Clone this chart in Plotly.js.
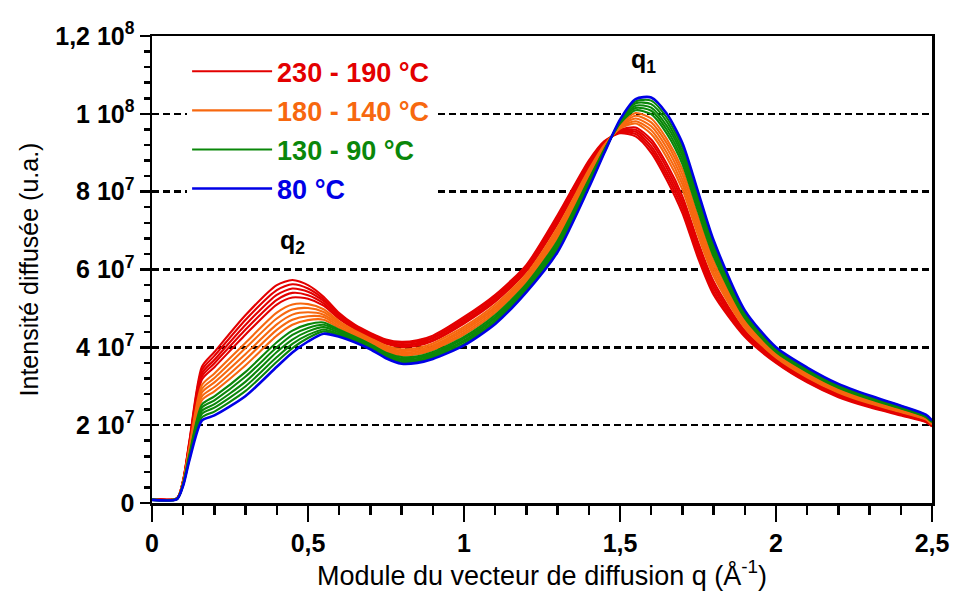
<!DOCTYPE html>
<html>
<head>
<meta charset="utf-8">
<script src="https://cdn.plot.ly/plotly-3.0.1.min.js"></script>
<style>html,body{margin:0;padding:0;background:#fff;}#chart{width:954px;height:596px;}</style>
</head>
<body>
<div id="chart"></div>
<script>
// Scattering vector modulus q (Å^-1)
const q = [0, 0.08, 0.1, 0.12, 0.16, 0.2, 0.3, 0.4, 0.45, 0.5, 0.55, 0.6, 0.65, 0.7, 0.75, 0.8, 0.85, 0.9, 1.0, 1.1, 1.2, 1.3, 1.4, 1.45, 1.5, 1.55, 1.6, 1.65, 1.7, 1.75, 1.8, 1.9, 2.0, 2.1, 2.2, 2.3, 2.4, 2.48, 2.5];

// Scattered intensity, in units of 10^7 (u.a.)
const c230 = [0.10, 0.12, 0.60, 1.60, 3.50, 3.88, 4.83, 5.60, 5.73, 5.60, 5.30, 4.88, 4.58, 4.37, 4.20, 4.14, 4.18, 4.30, 4.78, 5.35, 6.12, 7.40, 8.80, 9.30, 9.50, 9.42, 9.00, 8.30, 7.45, 6.30, 5.35, 4.27, 3.60, 3.10, 2.72, 2.46, 2.25, 2.08, 1.97];
const c220 = [0.10, 0.12, 0.59, 1.57, 3.42, 3.78, 4.71, 5.47, 5.62, 5.51, 5.24, 4.84, 4.55, 4.35, 4.17, 4.11, 4.15, 4.26, 4.74, 5.31, 6.08, 7.34, 8.76, 9.28, 9.52, 9.48, 9.09, 8.40, 7.56, 6.40, 5.43, 4.31, 3.62, 3.12, 2.74, 2.48, 2.27, 2.09, 1.98];
const c210 = [0.10, 0.12, 0.58, 1.54, 3.33, 3.68, 4.58, 5.35, 5.51, 5.43, 5.19, 4.81, 4.53, 4.32, 4.14, 4.07, 4.11, 4.23, 4.69, 5.26, 6.04, 7.29, 8.72, 9.26, 9.54, 9.54, 9.17, 8.50, 7.67, 6.50, 5.52, 4.35, 3.65, 3.15, 2.76, 2.50, 2.28, 2.10, 1.99];
const c200 = [0.10, 0.12, 0.57, 1.51, 3.25, 3.59, 4.46, 5.22, 5.40, 5.34, 5.13, 4.77, 4.50, 4.29, 4.11, 4.04, 4.08, 4.19, 4.65, 5.22, 5.99, 7.23, 8.67, 9.25, 9.56, 9.59, 9.26, 8.61, 7.77, 6.61, 5.60, 4.39, 3.67, 3.17, 2.78, 2.51, 2.30, 2.11, 2.00];
const c190 = [0.10, 0.12, 0.56, 1.48, 3.17, 3.49, 4.33, 5.10, 5.28, 5.25, 5.07, 4.73, 4.47, 4.27, 4.09, 4.01, 4.04, 4.16, 4.61, 5.17, 5.95, 7.17, 8.63, 9.23, 9.58, 9.65, 9.34, 8.71, 7.88, 6.71, 5.69, 4.43, 3.70, 3.19, 2.80, 2.53, 2.31, 2.13, 2.01];
const c180 = [0.09, 0.11, 0.55, 1.43, 3.03, 3.33, 4.12, 4.89, 5.10, 5.11, 4.98, 4.67, 4.43, 4.23, 4.04, 3.95, 3.98, 4.10, 4.53, 5.10, 5.88, 7.08, 8.56, 9.20, 9.62, 9.75, 9.48, 8.88, 8.06, 6.88, 5.83, 4.50, 3.74, 3.23, 2.84, 2.56, 2.34, 2.15, 2.02];
const c170 = [0.09, 0.11, 0.54, 1.40, 2.93, 3.21, 3.98, 4.74, 4.97, 5.01, 4.91, 4.63, 4.40, 4.20, 4.00, 3.91, 3.94, 4.05, 4.48, 5.04, 5.83, 7.01, 8.51, 9.18, 9.64, 9.81, 9.58, 9.00, 8.19, 7.00, 5.92, 4.55, 3.76, 3.26, 2.86, 2.58, 2.35, 2.16, 2.03];
const c160 = [0.09, 0.11, 0.53, 1.36, 2.84, 3.10, 3.83, 4.59, 4.84, 4.90, 4.84, 4.59, 4.36, 4.17, 3.97, 3.87, 3.90, 4.01, 4.43, 4.99, 5.78, 6.94, 8.46, 9.16, 9.67, 9.88, 9.68, 9.12, 8.31, 7.12, 6.02, 4.60, 3.79, 3.28, 2.88, 2.60, 2.37, 2.17, 2.04];
const c150 = [0.09, 0.11, 0.52, 1.33, 2.74, 2.98, 3.69, 4.45, 4.71, 4.80, 4.78, 4.54, 4.33, 4.14, 3.94, 3.83, 3.86, 3.97, 4.38, 4.94, 5.74, 6.88, 8.42, 9.14, 9.69, 9.95, 9.78, 9.24, 8.44, 7.24, 6.12, 4.64, 3.82, 3.31, 2.91, 2.63, 2.39, 2.19, 2.05];
const c140 = [0.09, 0.11, 0.51, 1.29, 2.64, 2.87, 3.54, 4.30, 4.58, 4.70, 4.71, 4.50, 4.30, 4.11, 3.90, 3.79, 3.82, 3.93, 4.33, 4.89, 5.69, 6.81, 8.37, 9.11, 9.72, 10.02, 9.88, 9.35, 8.57, 7.35, 6.22, 4.69, 3.85, 3.34, 2.93, 2.65, 2.41, 2.20, 2.06];
const c130 = [0.09, 0.11, 0.50, 1.25, 2.53, 2.74, 3.37, 4.13, 4.43, 4.59, 4.64, 4.45, 4.27, 4.08, 3.86, 3.75, 3.77, 3.88, 4.27, 4.83, 5.63, 6.74, 8.31, 9.09, 9.75, 10.09, 9.99, 9.49, 8.71, 7.49, 6.33, 4.75, 3.88, 3.37, 2.96, 2.67, 2.43, 2.21, 2.08];
const c120 = [0.09, 0.11, 0.49, 1.22, 2.45, 2.64, 3.25, 4.00, 4.32, 4.50, 4.58, 4.42, 4.24, 4.05, 3.84, 3.71, 3.74, 3.84, 4.23, 4.78, 5.59, 6.68, 8.27, 9.07, 9.77, 10.15, 10.08, 9.59, 8.82, 7.59, 6.41, 4.79, 3.90, 3.39, 2.98, 2.69, 2.44, 2.22, 2.08];
const c110 = [0.08, 0.10, 0.48, 1.19, 2.37, 2.54, 3.12, 3.88, 4.20, 4.41, 4.52, 4.38, 4.21, 4.03, 3.81, 3.68, 3.70, 3.81, 4.18, 4.74, 5.55, 6.62, 8.23, 9.05, 9.79, 10.21, 10.16, 9.69, 8.93, 7.69, 6.50, 4.83, 3.93, 3.41, 3.00, 2.71, 2.46, 2.24, 2.09];
const c100 = [0.08, 0.10, 0.47, 1.16, 2.29, 2.45, 3.00, 3.75, 4.09, 4.32, 4.46, 4.34, 4.18, 4.00, 3.78, 3.65, 3.67, 3.77, 4.14, 4.69, 5.50, 6.56, 8.18, 9.04, 9.81, 10.27, 10.25, 9.80, 9.03, 7.80, 6.58, 4.87, 3.95, 3.43, 3.02, 2.72, 2.47, 2.25, 2.10];
const c90  = [0.08, 0.10, 0.46, 1.13, 2.20, 2.35, 2.88, 3.63, 3.98, 4.24, 4.41, 4.31, 4.16, 3.98, 3.75, 3.61, 3.64, 3.74, 4.09, 4.65, 5.46, 6.51, 8.14, 9.02, 9.83, 10.32, 10.34, 9.90, 9.14, 7.90, 6.67, 4.91, 3.98, 3.46, 3.04, 2.74, 2.49, 2.26, 2.11];
const c80  = [0.08, 0.10, 0.45, 1.10, 2.12, 2.25, 2.75, 3.50, 3.87, 4.15, 4.35, 4.27, 4.13, 3.95, 3.72, 3.58, 3.60, 3.70, 4.05, 4.60, 5.42, 6.45, 8.10, 9.00, 9.85, 10.38, 10.42, 10.00, 9.25, 8.00, 6.75, 4.95, 4.00, 3.48, 3.06, 2.76, 2.50, 2.27, 2.12];

const series = [c230, c220, c210, c200, c190, c180, c170, c160, c150, c140, c130, c120, c110, c100, c90, c80];
const groupOf = [0,0,0,0,0, 1,1,1,1,1, 2,2,2,2,2, 3];
const groupNames = ['230 - 190 °C', '180 - 140 °C', '130 - 90 °C', '80 °C'];
const groupColors = ['#e30000', '#f7680f', '#0a870a', '#0000e6'];

const yTickVals = [0, 2, 4, 6, 8, 10, 12];
const yTickText = ['0', '2 10<sup>7</sup>', '4 10<sup>7</sup>', '6 10<sup>7</sup>', '8 10<sup>7</sup>', '1 10<sup>8</sup>', '1,2 10<sup>8</sup>'];
const xTickVals = [0, 0.5, 1, 1.5, 2, 2.5];
const xTickText = ['0', '0,5', '1', '1,5', '2', '2,5'];

const shown = {};
const traces = series.map((ys, i) => {
  const g = groupOf[i];
  const first = !shown[g];
  shown[g] = true;
  return {
    x: q, y: ys, type: 'scatter', mode: 'lines',
    line: {color: groupColors[g], width: g === 3 ? 2.6 : 2.1, shape: 'spline', smoothing: 0.7},
    legendgroup: 'g' + g,
    showlegend: first,
    name: '<span style="color:' + groupColors[g] + '">' + groupNames[g] + '</span>',
    hoverinfo: 'skip'
  };
});

const FONT = 'Liberation Sans, Arial, Helvetica, sans-serif';
const NARROW = 'Liberation Sans Narrow, Arial Narrow, Liberation Sans, sans-serif';

const layout = {
  width: 954, height: 596,
  margin: {l: 152, r: 22, t: 36, b: 93},
  paper_bgcolor: '#fff', plot_bgcolor: '#fff',
  showlegend: true,
  legend: {
    x: 0.045, y: 0.976, xanchor: 'left', yanchor: 'top',
    bgcolor: '#fff', borderwidth: 0,
    font: {family: FONT, size: 27, weight: 'bold'},
    itemwidth: 80, tracegroupgap: 1
  },
  shapes: [
    {type: 'rect', xref: 'paper', yref: 'paper', x0: 0.014, x1: 0.06, y0: 0.65, y1: 0.85,
     fillcolor: '#fff', line: {width: 0}, layer: 'between'}
  ],
  xaxis: {
    range: [0, 2.5], showgrid: false, zeroline: false,
    showline: true, linecolor: '#000', linewidth: 2.5, mirror: true,
    ticks: 'outside', ticklen: 16, tickwidth: 2.5, tickcolor: '#000',
    tickmode: 'array', tickvals: xTickVals, ticktext: xTickText,
    tickfont: {family: FONT, size: 25, weight: 'bold', color: '#000'},
    minor: {dtick: 0.1, tick0: 0, ticks: 'outside', ticklen: 9, tickwidth: 2.5, tickcolor: '#000', showgrid: false},
    title: {text: 'Module du vecteur de diffusion q (Å<sup>-1</sup>)', font: {family: FONT, size: 27, color: '#000'}, standoff: 5}
  },
  yaxis: {
    range: [0, 12], zeroline: false,
    showgrid: true, gridcolor: '#000', gridwidth: 2.5, griddash: '7px,4px',
    showline: true, linecolor: '#000', linewidth: 2.5, mirror: true,
    ticks: 'outside', ticklen: 10, tickwidth: 2.5, tickcolor: '#000',
    tickmode: 'array', tickvals: yTickVals, ticktext: yTickText,
    tickfont: {family: FONT, size: 25, weight: 'bold', color: '#000'},
    minor: {dtick: 0.4, tick0: 0, ticks: 'outside', ticklen: 6, tickwidth: 2.5, tickcolor: '#000', showgrid: false},
    title: {text: 'Intensité diffusée (u.a.)', font: {family: NARROW, size: 25, color: '#000'}, standoff: 10}
  },
  annotations: [
    {x: 0.45, y: 6.7, xref: 'x', yref: 'y', text: '<b>q<sub>2</sub></b>', showarrow: false, font: {family: FONT, size: 25, color: '#000'}},
    {x: 1.575, y: 11.35, xref: 'x', yref: 'y', text: '<b>q<sub>1</sub></b>', showarrow: false, font: {family: FONT, size: 25, color: '#000'}}
  ]
};

Plotly.newPlot('chart', traces, layout, {staticPlot: true, displayModeBar: false});
</script>
</body>
</html>
